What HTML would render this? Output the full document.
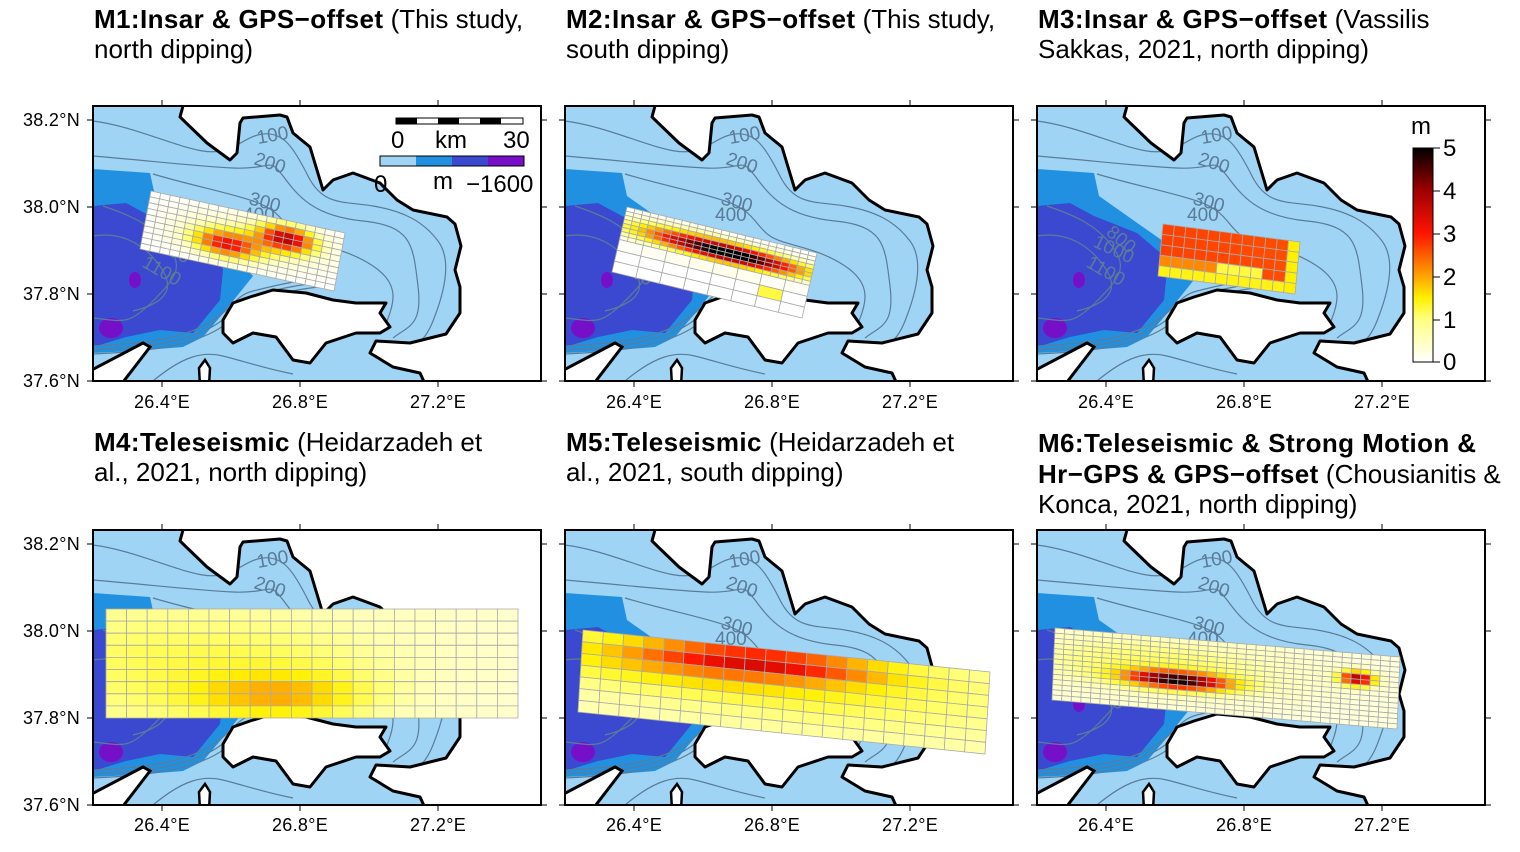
<!DOCTYPE html>
<html><head><meta charset="utf-8"><style>
body{margin:0;background:#fff}
svg{display:block;font-family:"Liberation Sans",sans-serif}
.t{font-size:26px}.b{font-weight:bold;letter-spacing:0.4px}
.ax{font-size:18px;letter-spacing:0.3px}
.cl{font-size:19px;fill:#5b7c98}
</style></head><body>
<svg id="s" width="1520" height="852" viewBox="0 0 1520 852">
<defs>
<clipPath id="cp"><rect x="0" y="0" width="448" height="275"/></clipPath>
<g id="map">
<rect x="0" y="0" width="448" height="275" fill="#9fd4f5"/>
<path d="M0,63 L57,67 L62,90 L133,140 L160,170 L140,195 L133,204 L110,231 L90,241 L40,245 L0,247Z" fill="#2190e0"/>
<path d="M0,100 L33,97 L57,110 L100,127 L127,150 L130,164 L127,194 L100,227 L67,224 L33,231 L0,241Z" fill="#3b48d0"/>
<ellipse cx="42" cy="174" rx="6" ry="8" fill="#7510c8"/>
<ellipse cx="18" cy="222" rx="12" ry="10" fill="#7510c8"/>
<g fill="none" stroke="#5b7c98" stroke-width="1.2">
<path d="M0,15 C40,20 80,40 110,45 S150,30 170,28 S200,40 215,70 S250,95 280,100 S330,115 345,135 S350,190 340,215 S320,240 300,250"/>
<path d="M0,50 C60,55 100,60 140,62 S175,50 190,70 S220,110 270,115 S320,140 325,180 S315,220 300,232"/>
<path d="M60,68 C100,80 130,85 160,95 S190,120 205,130 S250,140 280,160 S300,200 290,225"/>
<path d="M10,100 C40,110 60,120 75,140 S85,170 60,195 S30,215 0,212"/>
<path d="M0,130 C30,125 55,140 70,165 S60,200 40,205"/>
<path d="M0,240 C40,238 80,235 110,220 S140,190 160,185 S200,175 230,172"/>
<path d="M0,244 C40,242 82,239 113,224 S142,194 162,189 S202,179 232,176"/>
<path d="M0,248 C40,246 84,243 116,228 S144,198 164,193 S204,183 234,180"/>
<path d="M60,275 C90,250 110,245 130,250 S170,262 200,268"/>
</g>
<path d="M92,-5 L90,0 L87,11 L114,37 L137,54 L144,47 L147,17 L150,12 L187,9 L194,11 L200,27 L217,41 L230,84 L240,74 L260,67 L287,77 L304,94 L320,104 L354,111 L362,118 L368,140 L362,164 L367,181 L367,207 L353,228 L317,237 L283,235 L277,247 L300,261 L327,267 L333,280 L455,280 L455,-5Z" fill="#fff" stroke="#000" stroke-width="3" stroke-linejoin="round"/>
<path d="M130,214 L140,197 L157,191 L180,184 L213,187 L240,194 L263,197 L293,197 L287,207 L297,221 L287,227 L263,227 L233,237 L217,257 L200,254 L183,231 L160,227 L140,237 L130,227Z" fill="#fff" stroke="#000" stroke-width="3" stroke-linejoin="round"/>
<path d="M-5,266 L50,237 L57,241 L27,280 L-5,280Z" fill="#fff" stroke="#000" stroke-width="3"/>
<path d="M107,280 L106,262 L112,254 L117,262 L116,280Z" fill="#fff" stroke="#000" stroke-width="2.5"/>
<g class="cl">
<text x="165" y="38" transform="rotate(-10 165 38)">100</text>
<text x="160" y="58" transform="rotate(18 160 58)">200</text>
<text x="155" y="98" transform="rotate(15 155 98)">300</text>
<text x="150" y="115">400</text>
<text x="68" y="128" transform="rotate(40 68 128)">800</text>
<text x="55" y="140" transform="rotate(25 55 140)">1000</text>
<text x="48" y="160" transform="rotate(30 48 160)">1100</text>
</g>
</g>
</defs>
<g id="panels"></g>
<g class="t">
<text x="94" y="28"><tspan class="b">M1:Insar &amp; GPS−offset</tspan> (This study,</text>
<text x="94" y="58">north dipping)</text>
<text x="566" y="28"><tspan class="b">M2:Insar &amp; GPS−offset</tspan> (This study,</text>
<text x="566" y="58">south dipping)</text>
<text x="1038" y="28"><tspan class="b">M3:Insar &amp; GPS−offset</tspan> (Vassilis</text>
<text x="1038" y="58">Sakkas, 2021, north dipping)</text>
<text x="94" y="451"><tspan class="b">M4:Teleseismic</tspan> (Heidarzadeh et</text>
<text x="94" y="481">al., 2021, north dipping)</text>
<text x="566" y="451"><tspan class="b">M5:Teleseismic</tspan> (Heidarzadeh et</text>
<text x="566" y="481">al., 2021, south dipping)</text>
<text x="1038" y="452" class="b">M6:Teleseismic &amp; Strong Motion &amp;</text>
<text x="1038" y="483"><tspan class="b">Hr−GPS &amp; GPS−offset</tspan> (Chousianitis &amp;</text>
<text x="1038" y="513">Konca, 2021, north dipping)</text>
</g>
<g class="ax" text-anchor="end">
<text x="80" y="126">38.2°N</text><text x="80" y="213">38.0°N</text><text x="80" y="300">37.8°N</text><text x="80" y="387">37.6°N</text>
<text x="80" y="550">38.2°N</text><text x="80" y="637">38.0°N</text><text x="80" y="724">37.8°N</text><text x="80" y="811">37.6°N</text>
</g>
<g class="ax" text-anchor="middle">
<text x="162" y="408">26.4°E</text><text x="300" y="408">26.8°E</text><text x="438" y="408">27.2°E</text>
<text x="634" y="408">26.4°E</text><text x="772" y="408">26.8°E</text><text x="910" y="408">27.2°E</text>
<text x="1106" y="408">26.4°E</text><text x="1244" y="408">26.8°E</text><text x="1382" y="408">27.2°E</text>
<text x="162" y="831">26.4°E</text><text x="300" y="831">26.8°E</text><text x="438" y="831">27.2°E</text>
<text x="634" y="831">26.4°E</text><text x="772" y="831">26.8°E</text><text x="910" y="831">27.2°E</text>
<text x="1106" y="831">26.4°E</text><text x="1244" y="831">26.8°E</text><text x="1382" y="831">27.2°E</text>
</g>
<g transform="translate(93,106)">
<rect x="303" y="12" width="127" height="6" fill="#fff" stroke="#000"/>
<rect x="303" y="12" width="21" height="6"/><rect x="345" y="12" width="21" height="6"/><rect x="387" y="12" width="21" height="6"/>
<g style="font-size:24px"><text x="298" y="42">0</text><text x="342" y="42">km</text><text x="410" y="42">30</text></g>
<rect x="287" y="50" width="36" height="10" fill="#9fd4f5"/><rect x="323" y="50" width="36" height="10" fill="#2190e0"/><rect x="359" y="50" width="36" height="10" fill="#3b48d0"/><rect x="395" y="50" width="36" height="10" fill="#7510c8"/>
<rect x="287" y="50" width="144" height="10" fill="none" stroke="#000"/>
<g style="font-size:24px"><text x="281" y="86">0</text><text x="340" y="83">m</text><text x="373" y="86">−1600</text></g>
</g>
<defs><linearGradient id="cb" x1="0" y1="1" x2="0" y2="0">
<stop offset="0" stop-color="#fff"/><stop offset="0.2" stop-color="#ffff80"/><stop offset="0.3" stop-color="#fff000"/><stop offset="0.4" stop-color="#ffa500"/><stop offset="0.6" stop-color="#ff1400"/><stop offset="0.8" stop-color="#a00000"/><stop offset="1" stop-color="#000"/></linearGradient></defs>
<rect x="1413" y="148" width="20" height="214" fill="url(#cb)" stroke="#000"/>
<g style="font-size:24px"><text x="1411" y="134">m</text>
<text x="1443" y="156">5</text><text x="1443" y="199">4</text><text x="1443" y="242">3</text><text x="1443" y="285">2</text><text x="1443" y="328">1</text><text x="1443" y="370">0</text></g>
<g stroke="#000"><line x1="1433" y1="148" x2="1440" y2="148"/><line x1="1433" y1="191" x2="1440" y2="191"/><line x1="1433" y1="234" x2="1440" y2="234"/><line x1="1433" y1="277" x2="1440" y2="277"/><line x1="1433" y1="320" x2="1440" y2="320"/><line x1="1433" y1="362" x2="1440" y2="362"/></g>
</svg>
<script>
var NS="http://www.w3.org/2000/svg";
function el(n,a,p){var e=document.createElementNS(NS,n);for(var k in a)e.setAttribute(k,a[k]);if(p)p.appendChild(e);return e;}
var st=[[0,[255,255,255]],[0.7,[255,255,180]],[1,[255,255,110]],[1.5,[255,240,0]],[2,[255,165,0]],[3,[255,20,0]],[4,[160,0,0]],[5,[0,0,0]]];
function cm(s){s=Math.max(0,Math.min(5,s));for(var i=1;i<st.length;i++){if(s<=st[i][0]){var a=st[i-1],b=st[i],t=(s-a[0])/(b[0]-a[0]);return "rgb("+[0,1,2].map(function(j){return Math.round(a[1][j]+(b[1][j]-a[1][j])*t)}).join(",")+")";}}return "#000";}
function gs(u,v,cu,cv,su,sv,a){var x=(u-cu)/su,y=(v-cv)/sv;return a*Math.exp(-(x*x+y*y)/2);}
function grid(g,p0,U,V,rows,f){
 var v0=0;rows.forEach(function(r){var h=r[0],n=r[1];for(var i=0;i<n;i++){var a=i/n,b=(i+1)/n,c=v0,d=v0+h;
  var pts=[[a,c],[b,c],[b,d],[a,d]].map(function(q){return (p0[0]+U[0]*q[0]+V[0]*q[1]).toFixed(1)+","+(p0[1]+U[1]*q[0]+V[1]*q[1]).toFixed(1)}).join(" ");
  el("polygon",{points:pts,fill:cm(f((a+b)/2,(c+d)/2)),stroke:"#aaa","stroke-width":"0.8"},g);} v0+=h;});
}
function rep(n,h,c){var r=[];for(var i=0;i<n;i++)r.push([h,c]);return r;}
var P=[[93,106],[565,106],[1037,106],[93,530],[565,530],[1037,530]];
var defs=[
 function(g){grid(g,[58,85],[194,42],[-11,58],rep(10,0.1,20),function(u,v){return gs(u,v,0.72,0.3,0.1,0.15,3.2)+gs(u,v,0.42,0.62,0.12,0.15,2.6)+gs(u,v,0.55,0.45,0.25,0.25,0.9);});},
 function(g){grid(g,[62,101],[190,46],[-15,65],rep(8,0.0625,24).concat(rep(3,0.5/3,8)),function(u,v){return gs(u,v,0.62,0.32,0.25,0.1,4.6)+gs(u,v,0.3,0.28,0.25,0.12,1.8)+(v>0.7&&v<0.84&&u>0.75&&u<0.875?1.2:0);});},
 function(g){grid(g,[126,118],[137,18],[-5,52],rep(5,0.2,12),function(u,v){var s=2.7-0.1*u;if(v>0.8)s=1.4;if(u>0.9)s=1.5;if(v>0.6&&v<0.8&&u>0.45&&u<0.75)s=1.2;if(v>0.6&&v<0.8&&u<0.45)s=2.2;return s;});},
 function(g){grid(g,[13,79],[412,0],[0,109],rep(9,1/9,20),function(u,v){return 0.75+gs(u,v,0.42,0.8,0.15,0.15,1.1)+gs(u,v,0.3,0.5,0.3,0.3,0.5)-0.3*u;});},
 function(g){grid(g,[18,100],[407,42],[-5,82],rep(7,1/7,20),function(u,v){return 0.7+gs(u,v,0.45,0.15,0.2,0.12,1.9)+gs(u,v,0.25,0.3,0.25,0.2,1.0)+gs(u,v,0.6,0.4,0.3,0.3,0.5);});},
 function(g){grid(g,[18,98],[345,29],[-3,72],rep(14,1/14,36),function(u,v){return 0.3+gs(u,v,0.36,0.58,0.1,0.08,4.2)+gs(u,v,0.88,0.35,0.035,0.07,3.6)+gs(u,v,0.3,0.4,0.3,0.3,0.8);});}
];
var root=document.getElementById("panels");
P.forEach(function(p,i){
 var g=el("g",{transform:"translate("+p[0]+","+p[1]+")"},root);
 var c=el("g",{"clip-path":"url(#cp)"},g);
 el("use",{href:"#map"},c);
 var gg=el("g",{},c);defs[i](gg);
 el("rect",{x:0,y:0,width:448,height:275,fill:"none",stroke:"#000","stroke-width":"2"},g);
 [14,101,188,275].forEach(function(y){el("line",{x1:-6,y1:y,x2:0,y2:y,stroke:"#000"},g);el("line",{x1:448,y1:y,x2:454,y2:y,stroke:"#000"},g);});
 [69,207,345].forEach(function(x){el("line",{x1:x,y1:275,x2:x,y2:281,stroke:"#000"},g);el("line",{x1:x,y1:0,x2:x,y2:-6,stroke:"#000"},g);});
});
</script>
</body></html>
